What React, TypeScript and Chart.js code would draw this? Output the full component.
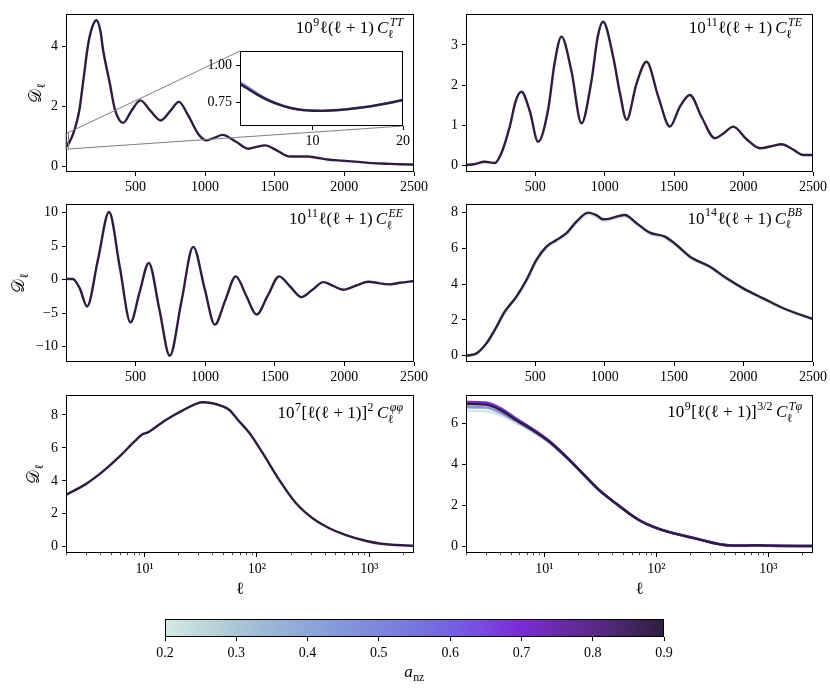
import React, { useEffect, useRef } from "react";
import { Chart, registerables } from "chart.js";
Chart.register(...registerables);

const SERIF = "'Liberation Serif', 'DejaVu Serif', 'Times New Roman', serif";
const TICK_FS = 14;
const TITLE_FS = 17;

// ---------------- data ----------------
const TT_L = [2, 5, 10, 20, 30, 50, 80, 100, 124, 160, 190, 220, 250, 268, 316, 352, 412, 470, 536, 610, 682, 750, 812, 880, 950, 1010, 1070, 1126, 1220, 1310, 1370, 1430, 1520, 1609, 1680, 1740, 1800, 1880, 1990, 2100, 2200, 2300, 2400, 2500];
const TT_V = [0.88, 0.77, 0.69, 0.76, 0.85, 1.05, 1.5, 1.95, 2.79, 4.05, 4.65, 4.88, 4.5, 3.9, 2.79, 1.93, 1.46, 1.85, 2.21, 1.85, 1.54, 1.85, 2.16, 1.7, 1.1, 0.88, 0.97, 1.06, 0.84, 0.6, 0.66, 0.71, 0.53, 0.34, 0.34, 0.34, 0.3, 0.24, 0.2, 0.16, 0.12, 0.1, 0.08, 0.07];

const TT_INSET_L = [2, 3, 4, 5, 6, 7, 8, 9, 10, 11, 12, 13, 14, 15, 16, 17, 18, 19, 20];
const TT_INSET_V = [0.875, 0.838, 0.8, 0.768, 0.742, 0.722, 0.707, 0.698, 0.694, 0.693, 0.695, 0.699, 0.705, 0.712, 0.72, 0.73, 0.741, 0.753, 0.767];
const TT_INSET_V_MID = [0.889, 0.849, 0.808, 0.773, 0.745, 0.724, 0.708, 0.699, 0.695, 0.694, 0.696, 0.7, 0.706, 0.713, 0.721, 0.731, 0.742, 0.754, 0.768];

const TE_L = [2, 60, 137, 209, 257, 317, 360, 401, 461, 521, 593, 640, 689, 761, 833, 905, 950, 989, 1061, 1110, 1158, 1230, 1302, 1386, 1470, 1542, 1614, 1698, 1794, 1860, 1926, 2020, 2118, 2200, 2274, 2350, 2430, 2500];
const TE_V = [0, 0.02, 0.08, 0.05, 0.3, 0.96, 1.6, 1.83, 1.35, 0.58, 1.38, 2.55, 3.21, 2.35, 1.04, 2.1, 3.2, 3.58, 2.71, 1.8, 1.13, 2.04, 2.58, 1.71, 0.96, 1.46, 1.75, 1.2, 0.67, 0.8, 0.96, 0.65, 0.42, 0.47, 0.52, 0.4, 0.25, 0.25];

const EE_L = [2, 50, 101, 153, 232, 311, 388, 465, 530, 596, 672, 747, 831, 915, 998, 1070, 1145, 1221, 1295, 1370, 1451, 1532, 1612, 1693, 1771, 1849, 1920, 1992, 2082, 2172, 2244, 2316, 2400, 2500];
const EE_V = [0.1, 0.1, -1.3, -4.0, 3.05, 10.1, 1.9, -6.35, -1.9, 2.5, -4.4, -11.35, -3.2, 4.9, -1.4, -6.7, -3.1, 0.5, -2.35, -5.2, -2.35, 0.5, -1.05, -2.6, -1.5, -0.36, -0.93, -1.5, -0.9, -0.3, -0.5, -0.7, -0.45, -0.2];

const BB_L = [2, 77, 149, 209, 281, 365, 437, 509, 581, 653, 725, 797, 881, 940, 989, 1037, 1090, 1146, 1230, 1326, 1434, 1518, 1614, 1758, 1878, 1998, 2142, 2286, 2500];
const BB_V = [0, 0.13, 0.69, 1.44, 2.46, 3.3, 4.23, 5.35, 6.09, 6.46, 6.84, 7.49, 7.99, 7.85, 7.62, 7.65, 7.78, 7.86, 7.4, 6.87, 6.65, 6.18, 5.53, 4.97, 4.32, 3.76, 3.2, 2.65, 2.05];
const BB_V_LIGHT = [0, 0.13, 0.68, 1.42, 2.43, 3.26, 4.19, 5.3, 6.03, 6.4, 6.78, 7.43, 7.92, 7.78, 7.56, 7.59, 7.72, 7.8, 7.35, 6.82, 6.6, 6.14, 5.5, 4.94, 4.3, 3.74, 3.18, 2.64, 2.04];

const PP_L = [2, 3, 4.26, 6, 8.15, 9.66, 10.7, 11.4, 15.6, 21.9, 33, 49.7, 57, 67.5, 85.8, 112.7, 158, 223, 313, 441, 621, 872, 1230, 2500];
const PP_V = [3.15, 3.8, 4.57, 5.48, 6.39, 6.84, 6.94, 7.06, 7.71, 8.28, 8.77, 8.52, 8.3, 7.71, 6.9, 5.68, 4.06, 2.64, 1.73, 1.12, 0.71, 0.41, 0.2, 0.05];

const TP_L = [2, 3, 4, 5.6, 7.87, 11.1, 15.6, 21.9, 30.8, 43.4, 57, 69.8, 80, 113, 223, 441, 600, 800, 1000, 2500];
const TP_V = [6.93, 6.9, 6.65, 6.15, 5.66, 5.09, 4.36, 3.55, 2.73, 2.08, 1.59, 1.27, 1.1, 0.78, 0.37, 0.03, 0.02, 0.04, 0.02, 0.0];
const TP_V_LIGHT = [6.6, 6.58, 6.4, 6.0, 5.56, 5.02, 4.32, 3.53, 2.72, 2.07, 1.58, 1.27, 1.1, 0.78, 0.37, 0.03, 0.02, 0.04, 0.02, 0.0];
const TP_V_MID = [6.78, 6.76, 6.53, 6.09, 5.62, 5.06, 4.34, 3.54, 2.73, 2.08, 1.59, 1.27, 1.1, 0.78, 0.37, 0.03, 0.02, 0.04, 0.02, 0.0];
const TP_V_PURPLE = [7.03, 7.0, 6.74, 6.22, 5.71, 5.12, 4.38, 3.56, 2.74, 2.09, 1.6, 1.28, 1.1, 0.78, 0.37, 0.03, 0.02, 0.04, 0.02, 0.0];

const LIN_X_TICKS = [500, 1000, 1500, 2000, 2500];
const LOG_X_TICKS = [10, 100, 1000];
const LOG_X_LABELS = ["10\u00B9", "10\u00B2", "10\u00B3"];
const LOG_MINOR = [2, 3, 4, 5, 6, 7, 8, 9, 20, 30, 40, 50, 60, 70, 80, 90, 200, 300, 400, 500, 600, 700, 800, 900, 2000];
const INSET_X_TICKS = [10, 20];
const INSET_Y_TICKS = [0.75, 1.0];

const CB_TICKS = [0.2, 0.3, 0.4, 0.5, 0.6, 0.7, 0.8, 0.9];
const CB_STOPS = [0.2, 0.25, 0.3, 0.35, 0.4, 0.45, 0.5, 0.55, 0.6, 0.65, 0.7, 0.75, 0.8, 0.85, 0.9];
const CB_COLORS = ["#d3e9e3", "#bfd9da", "#aac6d5", "#9ab5d6", "#8da6d9", "#8497db", "#7c88db", "#7675dd", "#7561e0", "#7947e2", "#7a2bd4", "#6a2aab", "#5a298a", "#442663", "#2e1d40"];

// ---------------- helpers ----------------
function hexToRgb(h: string) {
  const n = parseInt(h.slice(1), 16);
  return [(n >> 16) & 255, (n >> 8) & 255, n & 255];
}
function colorAt(a: number) {
  for (let i = 0; i < CB_STOPS.length - 1; i++) {
    if (a <= CB_STOPS[i + 1]) {
      const t = (a - CB_STOPS[i]) / (CB_STOPS[i + 1] - CB_STOPS[i]);
      const c0 = hexToRgb(CB_COLORS[i]);
      const c1 = hexToRgb(CB_COLORS[i + 1]);
      const c = c0.map((v, k) => Math.round(v + (c1[k] - v) * Math.max(0, Math.min(1, t))));
      return `rgb(${c[0]},${c[1]},${c[2]})`;
    }
  }
  return CB_COLORS[CB_COLORS.length - 1];
}

type Seg = { t: string; it?: boolean; k?: "sup" | "sub" | "ss"; sub?: string; subIt?: boolean; gap?: number };

function fontStr(size: number, it?: boolean) {
  return `${it ? "italic " : ""}${size}px ${SERIF}`;
}

function measureMath(ctx: CanvasRenderingContext2D, segs: Seg[], size: number) {
  const ops: { x: number; dy: number; text: string; f: string }[] = [];
  let w = 0;
  for (const s of segs) {
    if (s.gap !== undefined) {
      w += s.gap;
      continue;
    }
    if (s.k === "ss") {
      const ss = size * 0.7;
      const f1 = fontStr(ss, s.it);
      const f2 = fontStr(ss, s.subIt);
      ctx.font = f1;
      const w1 = ctx.measureText(s.t).width;
      ctx.font = f2;
      const w2 = ctx.measureText(s.sub || "").width;
      ops.push({ x: w + 1.5, dy: -size * 0.42, text: s.t, f: f1 });
      ops.push({ x: w - 0.5, dy: size * 0.27, text: s.sub || "", f: f2 });
      w += Math.max(w1 + 1.5, w2) + 1;
    } else if (s.k === "sup" || s.k === "sub") {
      const ss = size * 0.7;
      const f = fontStr(ss, s.it);
      ctx.font = f;
      const tw = ctx.measureText(s.t).width;
      ops.push({ x: w + 0.5, dy: s.k === "sup" ? -size * 0.42 : size * 0.25, text: s.t, f });
      w += tw + 1;
    } else {
      const f = fontStr(size, s.it);
      ctx.font = f;
      const tw = ctx.measureText(s.t).width;
      ops.push({ x: w, dy: 0, text: s.t, f });
      w += tw;
    }
  }
  return { w, ops };
}

function drawMath(ctx: CanvasRenderingContext2D, segs: Seg[], x: number, y: number, size: number, align: "left" | "right" | "center") {
  const { w, ops } = measureMath(ctx, segs, size);
  const x0 = align === "right" ? x - w : align === "center" ? x - w / 2 : x;
  ctx.save();
  ctx.fillStyle = "#000";
  ctx.textAlign = "left";
  ctx.textBaseline = "alphabetic";
  for (const o of ops) {
    ctx.font = o.f;
    ctx.fillText(o.text, x0 + o.x, y + o.dy);
  }
  ctx.restore();
}

const ELL = "\u2113";
const titleFor = (pow: string, body: string, bodyPow: string | null, spec: string): Seg[] => {
  const segs: Seg[] = [{ t: "10" }, { t: pow, k: "sup" }, { t: body }];
  if (bodyPow) segs.push({ t: bodyPow, k: "sup" });
  segs.push({ gap: 3 }, { t: "C", it: true }, { t: spec, k: "ss", it: true, sub: ELL });
  return segs;
};
const BASIC = `${ELL}(${ELL} + 1)`;
const BRACK = `[${ELL}(${ELL} + 1)]`;

const YLABEL: Seg[] = [{ t: "\uD835\uDC9F" }, { t: ELL, k: "sub" }];

const INSET_BOX = [240, 51, 403, 126];
const INSET_RANGE_X = [2, 20];
const INSET_RANGE_Y = [0.59, 1.1];

type Series = { L: number[]; V: number[]; a: number; w?: number };
type Panel = {
  box: number[];
  canvas: number[];
  log: boolean;
  xr: number[];
  yr: number[];
  yTicks: number[];
  series: Series[];
  title: Seg[];
  titleDy: number;
  ylabelX?: number;
  xlabel?: boolean;
  inset?: boolean;
};

const PANELS: Panel[] = [
  {
    box: [66, 14, 414, 172], canvas: [0, 4, 434, 198], log: false, xr: [2, 2500], yr: [-0.177, 5.09], yTicks: [0, 2, 4],
    series: [{ L: TT_L, V: TT_V, a: 0.9 }], title: titleFor("9", BASIC, null, "TT"), titleDy: 19, ylabelX: 41, inset: true,
  },
  {
    box: [466, 14, 813, 172], canvas: [416, 4, 414, 198], log: false, xr: [2, 2500], yr: [-0.175, 3.775], yTicks: [0, 1, 2, 3],
    series: [{ L: TE_L, V: TE_V, a: 0.9 }], title: titleFor("11", BASIC, null, "TE"), titleDy: 19,
  },
  {
    box: [66, 204, 414, 362], canvas: [0, 194, 434, 198], log: false, xr: [2, 2500], yr: [-12.28, 11.3], yTicks: [-10, -5, 0, 5, 10],
    series: [{ L: EE_L, V: EE_V, a: 0.9 }], title: titleFor("11", BASIC, null, "EE"), titleDy: 20, ylabelX: 24,
  },
  {
    box: [466, 204, 813, 362], canvas: [416, 194, 414, 198], log: false, xr: [2, 2500], yr: [-0.35, 8.47], yTicks: [0, 2, 4, 6, 8],
    series: [{ L: BB_L, V: BB_V_LIGHT, a: 0.2, w: 3.2 }, { L: BB_L, V: BB_V, a: 0.9 }], title: titleFor("14", BASIC, null, "BB"), titleDy: 19.5,
  },
  {
    box: [66, 395, 414, 553], canvas: [0, 385, 434, 215], log: true, xr: [2, 2500], yr: [-0.38, 9.21], yTicks: [0, 2, 4, 6, 8],
    series: [{ L: PP_L, V: PP_V, a: 0.9 }], title: titleFor("7", BRACK, "2", "\u03C6\u03C6"), titleDy: 23, ylabelX: 39, xlabel: true,
  },
  {
    box: [466, 395, 813, 553], canvas: [416, 385, 414, 215], log: true, xr: [2, 2500], yr: [-0.34, 7.37], yTicks: [0, 2, 4, 6],
    series: [
      { L: TP_L, V: TP_V_LIGHT, a: 0.2, w: 2.6 },
      { L: TP_L, V: TP_V_MID, a: 0.45, w: 2.6 },
      { L: TP_L, V: TP_V_PURPLE, a: 0.7, w: 2.6 },
      { L: TP_L, V: TP_V, a: 0.9 },
    ],
    title: titleFor("9", BRACK, "3/2", "T\u03C6"), titleDy: 22, xlabel: true,
  },
];

const fmtMinus = (s: string) => s.replace("-", "\u2212");

const tickFont = { family: SERIF, size: TICK_FS };
const gridOpts = { display: true, drawOnChartArea: false, drawTicks: true, tickLength: 4, tickColor: "#000", tickWidth: 1 };

function makeDataset(s: Series) {
  return {
    data: s.L.map((x, i) => ({ x, y: s.V[i] })),
    borderColor: colorAt(s.a),
    borderWidth: s.w ?? 2.4,
    pointRadius: 0,
    fill: false,
    cubicInterpolationMode: "monotone" as const,
    borderCapStyle: "round" as const,
    borderJoinStyle: "round" as const,
  };
}

// Chart.js paints dataset 0 last (on top); series are listed bottom-to-top, so reverse them.
function makeDatasets(list: Series[]) {
  return list.slice().reverse().map(makeDataset);
}

function frame(ctx: CanvasRenderingContext2D, a: { left: number; top: number; right: number; bottom: number }) {
  ctx.save();
  ctx.strokeStyle = "#000";
  ctx.lineWidth = 1;
  ctx.strokeRect(Math.round(a.left) + 0.5, Math.round(a.top) + 0.5, Math.round(a.right - a.left) - 1, Math.round(a.bottom - a.top) - 1);
  ctx.restore();
}

function panelConfig(p: Panel): any {
  const [L, T, R, B] = p.box;
  const [cx, cy, cw, ch] = p.canvas;
  const yw = L - cx;
  const padTop = T - cy;
  const padRight = cx + cw - R;
  const xh = cy + ch - B;
  return {
    type: "line",
    data: { datasets: makeDatasets(p.series) },
    options: {
      responsive: false,
      animation: false,
      devicePixelRatio: 1,
      events: [],
      layout: { padding: { top: padTop, right: padRight, left: 0, bottom: 0 } },
      plugins: { legend: { display: false }, tooltip: { enabled: false } },
      scales: {
        x: {
          type: p.log ? "logarithmic" : "linear",
          min: p.xr[0],
          max: p.xr[1],
          afterBuildTicks: (s: any) => {
            s.ticks = (p.log ? LOG_X_TICKS : LIN_X_TICKS).map((v) => ({ value: v }));
          },
          afterFit: (s: any) => {
            s.height = xh;
            s.paddingLeft = 0;
            s.paddingRight = 0;
          },
          ticks: {
            autoSkip: false,
            maxRotation: 0,
            padding: p.log ? 4 : 3,
            color: "#000",
            font: tickFont,
            callback: (v: number) => (p.log ? LOG_X_LABELS[LOG_X_TICKS.indexOf(v)] ?? "" : String(v)),
          },
          grid: gridOpts,
          border: { display: false },
        },
        y: {
          type: "linear",
          min: p.yr[0],
          max: p.yr[1],
          afterBuildTicks: (s: any) => {
            s.ticks = p.yTicks.map((v) => ({ value: v }));
          },
          afterFit: (s: any) => {
            s.width = yw;
            s.paddingTop = 0;
            s.paddingBottom = 0;
          },
          ticks: { padding: 4, color: "#000", font: tickFont, callback: (v: number) => fmtMinus(String(v)) },
          grid: gridOpts,
          border: { display: false },
        },
      },
    },
    plugins: [
      {
        id: "deco",
        afterDraw(chart: any) {
          const ctx: CanvasRenderingContext2D = chart.ctx;
          const a = chart.chartArea;
          const xs = chart.scales.x;
          const ys = chart.scales.y;
          frame(ctx, a);
          if (p.log) {
            ctx.save();
            ctx.strokeStyle = "#000";
            ctx.lineWidth = 0.7;
            for (const v of LOG_MINOR) {
              if (v < p.xr[0] || v > p.xr[1]) continue;
              const x = Math.round(xs.getPixelForValue(v)) + 0.5;
              ctx.beginPath();
              ctx.moveTo(x, a.bottom);
              ctx.lineTo(x, a.bottom + 2.2);
              ctx.stroke();
            }
            ctx.restore();
          }
          if (p.inset) {
            const x0 = xs.getPixelForValue(INSET_RANGE_X[0]);
            const x1 = xs.getPixelForValue(INSET_RANGE_X[1]);
            const y0 = ys.getPixelForValue(INSET_RANGE_Y[0]);
            const y1 = ys.getPixelForValue(INSET_RANGE_Y[1]);
            const ib = [INSET_BOX[0] - cx, INSET_BOX[1] - cy, INSET_BOX[2] - cx, INSET_BOX[3] - cy];
            ctx.save();
            ctx.strokeStyle = "#7f7f7f";
            ctx.lineWidth = 1;
            ctx.strokeRect(x0, y1, x1 - x0, y0 - y1);
            ctx.beginPath();
            ctx.moveTo(x0, y1);
            ctx.lineTo(ib[0], ib[1]);
            ctx.moveTo(x1, y0);
            ctx.lineTo(ib[2], ib[3]);
            ctx.stroke();
            ctx.restore();
          }
          drawMath(ctx, p.title, a.right - 10, a.top + p.titleDy, TITLE_FS, "right");
          if (p.ylabelX !== undefined) {
            ctx.save();
            ctx.translate(p.ylabelX - cx, (a.top + a.bottom) / 2);
            ctx.rotate(-Math.PI / 2);
            drawMath(ctx, YLABEL, 0, 0, TITLE_FS, "center");
            ctx.restore();
          }
          if (p.xlabel) {
            drawMath(ctx, [{ t: ELL }], (a.left + a.right) / 2, a.bottom + 41, TITLE_FS, "center");
          }
        },
      },
    ],
  };
}

const INSET_CANVAS = [195, 45, 220, 106];

function insetConfig(): any {
  const [L, T, R, B] = INSET_BOX;
  const [cx, cy, cw, ch] = INSET_CANVAS;
  const yw = L - cx;
  const padTop = T - cy;
  const padRight = cx + cw - R;
  const xh = cy + ch - B;
  return {
    type: "line",
    data: {
      datasets: makeDatasets([
        { L: TT_INSET_L, V: TT_INSET_V_MID, a: 0.5 },
        { L: TT_INSET_L, V: TT_INSET_V, a: 0.9 },
      ]),
    },
    options: {
      responsive: false,
      animation: false,
      devicePixelRatio: 1,
      events: [],
      layout: { padding: { top: padTop, right: padRight, left: 0, bottom: 0 } },
      plugins: { legend: { display: false }, tooltip: { enabled: false } },
      scales: {
        x: {
          type: "linear",
          min: INSET_RANGE_X[0],
          max: INSET_RANGE_X[1],
          afterBuildTicks: (s: any) => {
            s.ticks = INSET_X_TICKS.map((v) => ({ value: v }));
          },
          afterFit: (s: any) => {
            s.height = xh;
            s.paddingLeft = 0;
            s.paddingRight = 0;
          },
          ticks: { autoSkip: false, maxRotation: 0, padding: 3, color: "#000", font: tickFont, callback: (v: number) => String(v) },
          grid: gridOpts,
          border: { display: false },
        },
        y: {
          type: "linear",
          min: INSET_RANGE_Y[0],
          max: INSET_RANGE_Y[1],
          afterBuildTicks: (s: any) => {
            s.ticks = INSET_Y_TICKS.map((v) => ({ value: v }));
          },
          afterFit: (s: any) => {
            s.width = yw;
            s.paddingTop = 0;
            s.paddingBottom = 0;
          },
          ticks: { padding: 4, color: "#000", font: tickFont, callback: (v: number) => v.toFixed(2) },
          grid: gridOpts,
          border: { display: false },
        },
      },
    },
    plugins: [
      {
        id: "insetBg",
        beforeDraw(chart: any) {
          const a = chart.chartArea;
          const ctx = chart.ctx;
          ctx.save();
          ctx.fillStyle = "#fff";
          ctx.fillRect(a.left, a.top, a.right - a.left, a.bottom - a.top);
          ctx.restore();
        },
        afterDraw(chart: any) {
          frame(chart.ctx, chart.chartArea);
        },
      },
    ],
  };
}

const CB_BOX = [165, 619, 664, 637];
const CB_CANVAS = [130, 610, 570, 82];

function colorbarConfig(): any {
  const [L, T, R, B] = CB_BOX;
  const [cx, cy, cw, ch] = CB_CANVAS;
  const xh = cy + ch - B;
  return {
    type: "line",
    data: { datasets: [] },
    options: {
      responsive: false,
      animation: false,
      devicePixelRatio: 1,
      events: [],
      layout: { padding: { top: T - cy, right: cx + cw - R, left: L - cx, bottom: 0 } },
      plugins: { legend: { display: false }, tooltip: { enabled: false } },
      scales: {
        x: {
          type: "linear",
          min: CB_TICKS[0],
          max: CB_TICKS[CB_TICKS.length - 1],
          afterBuildTicks: (s: any) => {
            s.ticks = CB_TICKS.map((v) => ({ value: v }));
          },
          afterFit: (s: any) => {
            s.height = xh;
            s.paddingLeft = 0;
            s.paddingRight = 0;
          },
          ticks: { autoSkip: false, maxRotation: 0, padding: 4, color: "#000", font: tickFont, callback: (v: number) => v.toFixed(1) },
          grid: gridOpts,
          border: { display: false },
        },
        y: { display: false, min: 0, max: 1 },
      },
    },
    plugins: [
      {
        id: "cb",
        beforeDatasetsDraw(chart: any) {
          const a = chart.chartArea;
          const ctx: CanvasRenderingContext2D = chart.ctx;
          const xs = chart.scales.x;
          const g = ctx.createLinearGradient(a.left, 0, a.right, 0);
          CB_STOPS.forEach((s, i) => {
            const px = xs.getPixelForValue(s);
            g.addColorStop(Math.max(0, Math.min(1, (px - a.left) / (a.right - a.left))), CB_COLORS[i]);
          });
          ctx.save();
          ctx.fillStyle = g;
          ctx.fillRect(a.left, a.top, a.right - a.left, a.bottom - a.top);
          ctx.restore();
        },
        afterDraw(chart: any) {
          const a = chart.chartArea;
          const ctx: CanvasRenderingContext2D = chart.ctx;
          frame(ctx, a);
          drawMath(ctx, [{ t: "a", it: true }, { t: "nz", k: "sub" }], (a.left + a.right) / 2, a.bottom + 40, TITLE_FS, "center");
        },
      },
    ],
  };
}

type CanvasSpec = { pos: number[]; cfg: () => any };

const CANVASES: CanvasSpec[] = [
  ...PANELS.map((p) => ({ pos: p.canvas, cfg: () => panelConfig(p) })),
  { pos: INSET_CANVAS, cfg: insetConfig },
  { pos: CB_CANVAS, cfg: colorbarConfig },
];

export default function App() {
  const refs = useRef<(HTMLCanvasElement | null)[]>([]);
  useEffect(() => {
    document.body.style.margin = "0";
    Chart.defaults.font.family = SERIF;
    const charts = CANVASES.map((c, i) => new Chart(refs.current[i] as HTMLCanvasElement, c.cfg()));
    return () => charts.forEach((c) => c.destroy());
  }, []);
  return (
    <div style={{ position: "relative", width: 830, height: 692, background: "#fff", overflow: "hidden" }}>
      {CANVASES.map((c, i) => (
        <canvas
          key={i}
          ref={(el) => {
            refs.current[i] = el;
          }}
          width={c.pos[2]}
          height={c.pos[3]}
          style={{ position: "absolute", left: c.pos[0], top: c.pos[1], width: c.pos[2], height: c.pos[3] }}
        />
      ))}
    </div>
  );
}
